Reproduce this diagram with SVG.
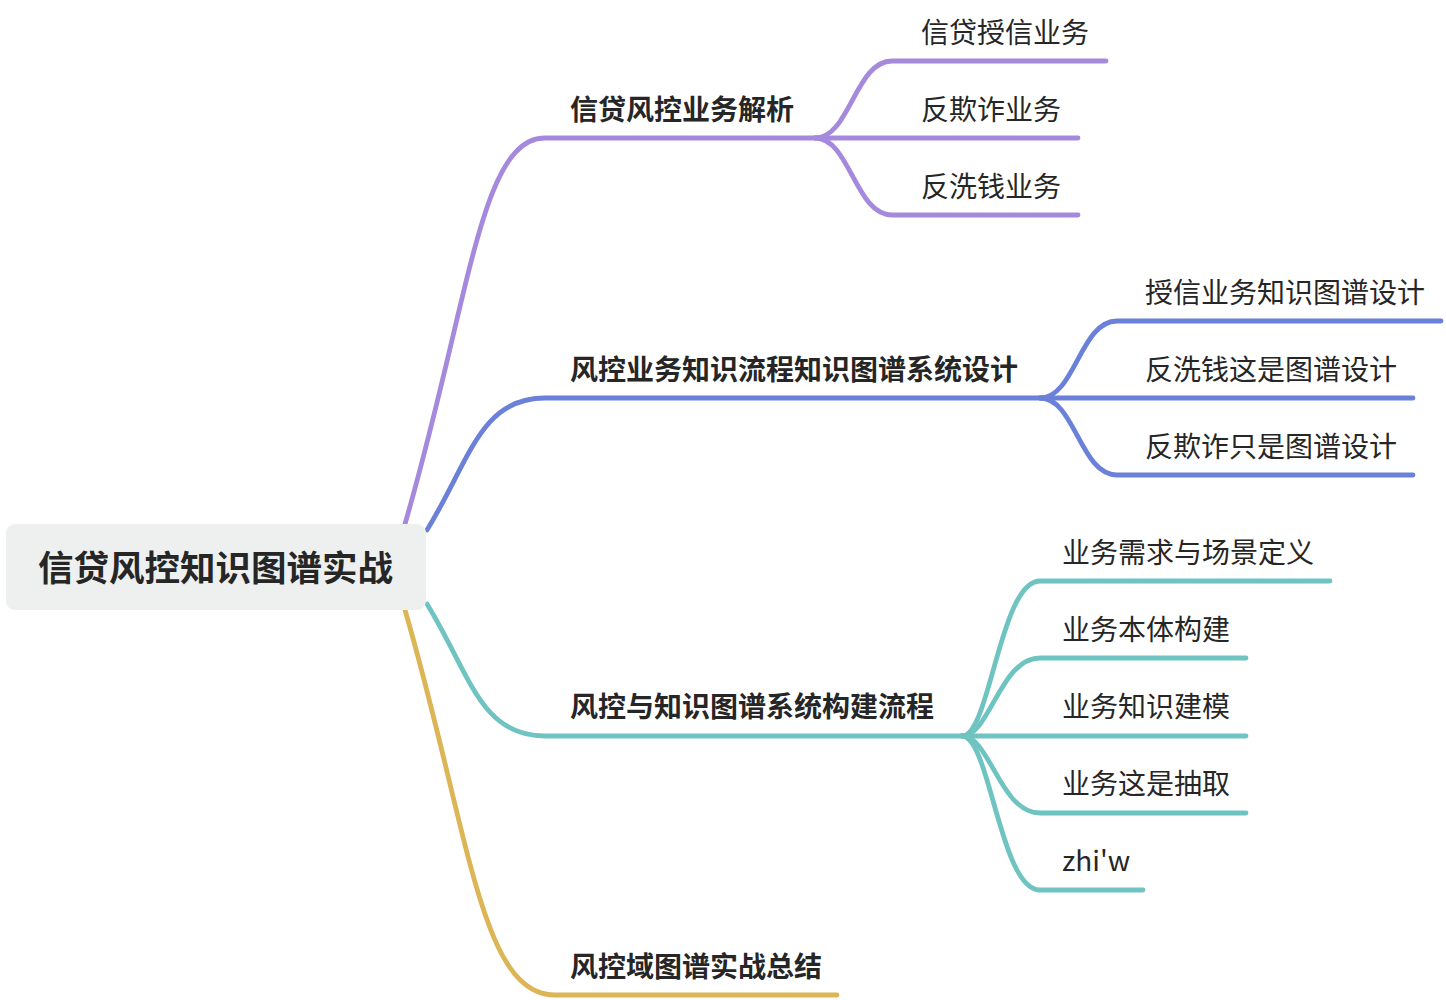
<svg xmlns="http://www.w3.org/2000/svg" width="1446" height="1000" viewBox="0 0 1446 1000">
<style>
.ln{fill:none;stroke-width:4.8;stroke-linecap:round;stroke-linejoin:round}
.p{stroke:#a589dc}.b{stroke:#6b80d9}.t{stroke:#6fc4c1}.y{stroke:#dcb556}
text{font-family:"Noto Sans CJK SC","Noto Sans",sans-serif;fill:#262626;dominant-baseline:central}
.l0{font-size:35.5px;font-weight:700}
.l1{font-size:28px;font-weight:700}
.l2{font-size:28px;font-weight:400}
</style>
<rect width="1446" height="1000" fill="#ffffff"/>
<g id="connectors">
<path class="ln p" d="M405 524 C470 300 480 138 545 138 L1078 138"/>
<path class="ln p" d="M815 138 C850 138 855 61 892 61 L1106 61"/>
<path class="ln p" d="M815 138 C850 138 855 215 892 215 L1078 215"/>
<path class="ln b" d="M427 530 C470 460 480 398 545 398 L1413 398"/>
<path class="ln b" d="M1040 398 C1075 398 1080 321 1117 321 L1441 321"/>
<path class="ln b" d="M1040 398 C1075 398 1080 475 1117 475 L1413 475"/>
<path class="ln t" d="M427 604 C470 674 480 736 545 736 L1246 736"/>
<path class="ln t" d="M962 736 C990 736 1000 581 1040 581 L1330 581"/>
<path class="ln t" d="M962 736 C990 736 1000 658 1040 658 L1246 658"/>
<path class="ln t" d="M962 736 C990 736 1000 813 1040 813 L1246 813"/>
<path class="ln t" d="M962 736 C990 736 1000 890 1040 890 L1143 890"/>
<path class="ln y" d="M405 610 C470 834 480 995 555 995 L837 995"/>
</g>
<g id="root">
<rect x="6" y="524" width="420" height="86" rx="9" fill="#eef0f0"/>
<text class="l0" x="38" y="565">信贷风控知识图谱实战</text>
</g>
<g id="n1"><text class="l1" x="570" y="108">信贷风控业务解析</text></g>
<g id="n1a"><text class="l2" x="921" y="31">信贷授信业务</text></g>
<g id="n1b"><text class="l2" x="921" y="108">反欺诈业务</text></g>
<g id="n1c"><text class="l2" x="921" y="185">反洗钱业务</text></g>
<g id="n2"><text class="l1" x="570" y="368">风控业务知识流程知识图谱系统设计</text></g>
<g id="n2a"><text class="l2" x="1145" y="291">授信业务知识图谱设计</text></g>
<g id="n2b"><text class="l2" x="1145" y="368">反洗钱这是图谱设计</text></g>
<g id="n2c"><text class="l2" x="1145" y="445">反欺诈只是图谱设计</text></g>
<g id="n3"><text class="l1" x="570" y="705">风控与知识图谱系统构建流程</text></g>
<g id="n3a"><text class="l2" x="1062" y="551">业务需求与场景定义</text></g>
<g id="n3b"><text class="l2" x="1062" y="628">业务本体构建</text></g>
<g id="n3c"><text class="l2" x="1062" y="705">业务知识建模</text></g>
<g id="n3d"><text class="l2" x="1062" y="782">业务这是抽取</text></g>
<g id="n3e"><text class="l2" x="1062" y="859">zhi'w</text></g>
<g id="n4"><text class="l1" x="570" y="965">风控域图谱实战总结</text></g>
</svg>
